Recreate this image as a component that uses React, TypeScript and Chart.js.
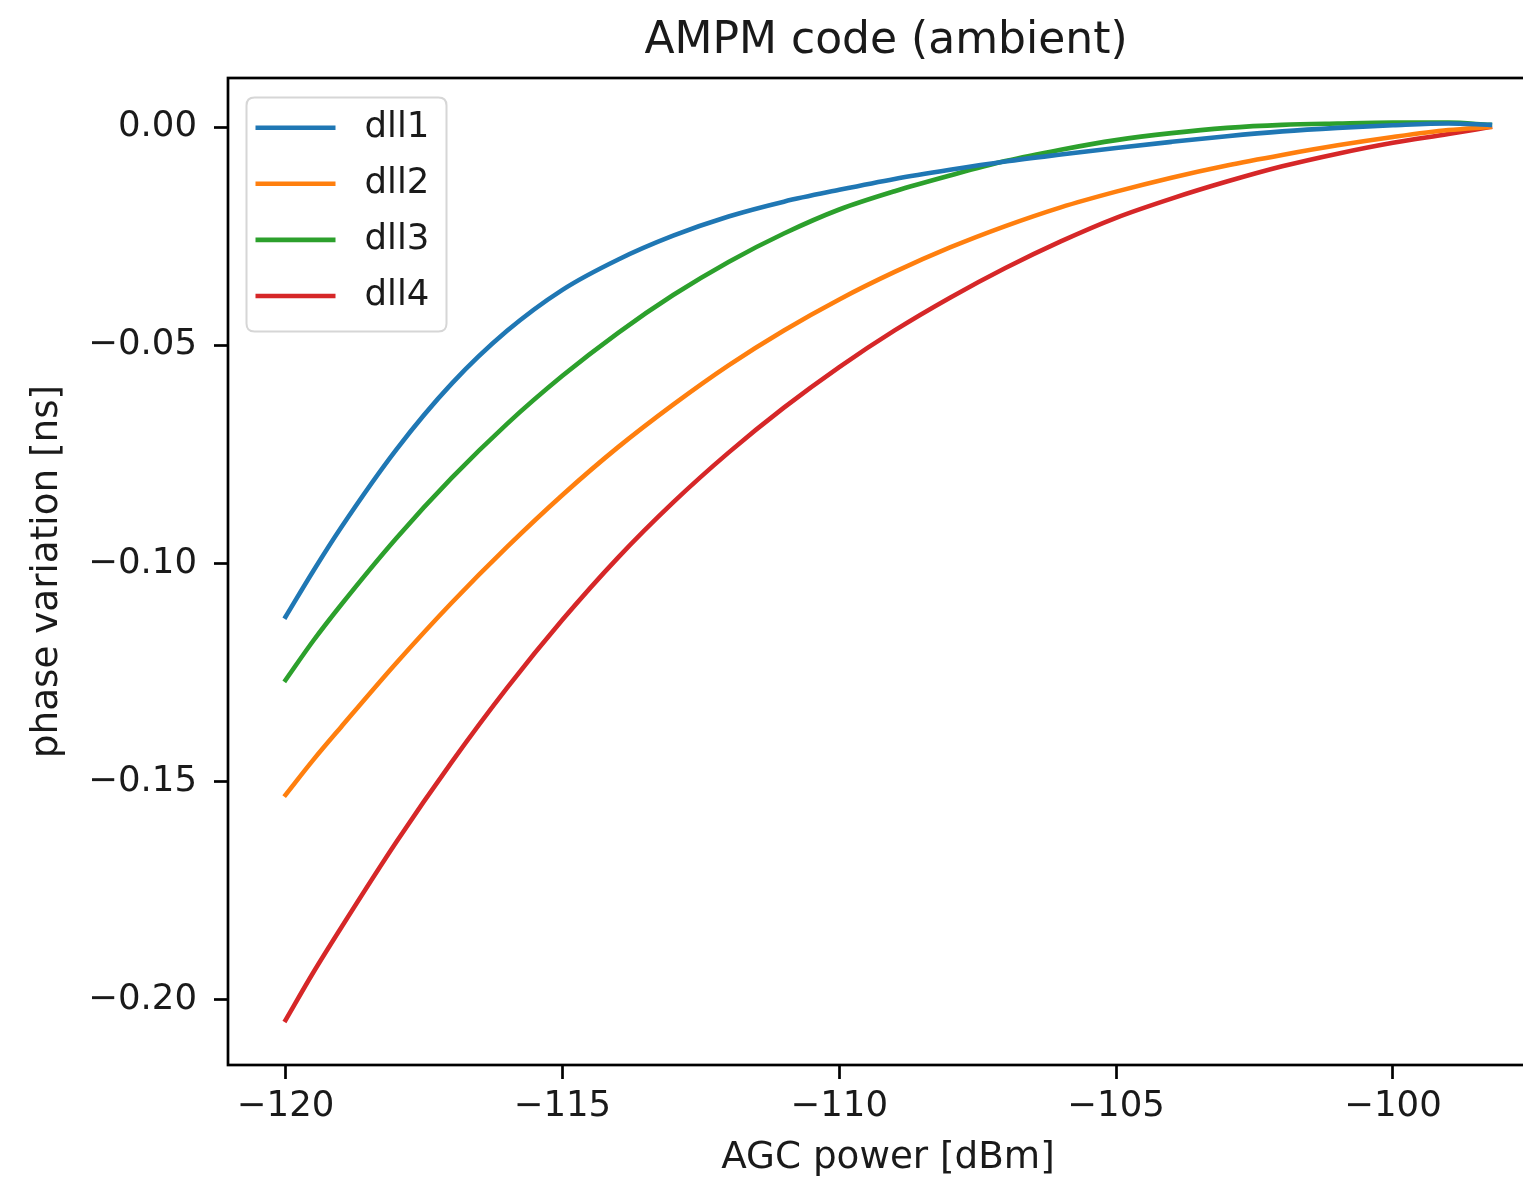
import React, { useEffect, useRef } from 'react';
import { Chart, registerables } from 'chart.js';

Chart.register(...registerables);

// ---- data ----
const xValues = [-120, -119.5, -119, -118, -117, -116, -115, -114, -113, -112, -111, -110, -109, -108, -107, -106, -105, -104, -103, -102, -101, -100, -99, -98.25];

const dll1 = [-0.1122, -0.1017, -0.0918, -0.0739, -0.0588, -0.0467, -0.0373, -0.0304, -0.0249, -0.0205, -0.0171, -0.0144, -0.0119, -0.0098, -0.0079, -0.0063, -0.0048, -0.0034, -0.0021, -0.0010, -0.0002, 0.0004, 0.0008, 0.0005];
const dll2 = [-0.1530, -0.1450, -0.1375, -0.1228, -0.1090, -0.0962, -0.0843, -0.0734, -0.0636, -0.0546, -0.0466, -0.0395, -0.0332, -0.0276, -0.0227, -0.0184, -0.0148, -0.0116, -0.0088, -0.0064, -0.0042, -0.0023, -0.0007, 0.0];
const dll3 = [-0.1267, -0.1177, -0.1095, -0.0942, -0.0804, -0.0680, -0.0570, -0.0472, -0.0385, -0.0309, -0.0244, -0.0189, -0.0147, -0.0111, -0.0078, -0.0052, -0.0030, -0.0014, -0.0002, 0.0005, 0.0008, 0.0010, 0.0010, 0.0005];
const dll4 = [-0.2046, -0.1937, -0.1835, -0.1638, -0.1455, -0.1285, -0.1129, -0.0987, -0.0860, -0.0746, -0.0643, -0.0550, -0.0466, -0.0391, -0.0323, -0.0262, -0.0208, -0.0164, -0.0125, -0.0090, -0.0061, -0.0036, -0.0016, 0.0];

const seriesLabels = ['dll1', 'dll2', 'dll3', 'dll4'];
const seriesColors = ['#1f77b4', '#ff7f0e', '#2ca02c', '#d62728'];
const xTickValues = [-120, -115, -110, -105, -100];
const yTickValues = [-0.2, -0.15, -0.1, -0.05, 0];
const titleText = 'AMPM code (ambient)';
const xAxisLabel = 'AGC power [dBm]';
const yAxisLabel = 'phase variation [ns]';

// ---- styling ----
const FONT = "'DejaVu Sans', 'Noto Sans', sans-serif";
const TEXT = '#1a1a1a';
const CANVAS_W = 1560;
const CANVAS_H = 1179;
const AREA_LEFT = 228;
const AREA_TOP = 78;
const AREA_BOTTOM = 1065;
const TICK_FONT = 35.5;
const LABEL_FONT = 37.3;

const minus = (v: number, digits: number) => {
  const s = Math.abs(v).toFixed(digits);
  return v < -1e-9 ? '\u2212' + s : s;
};

const framePlugin = {
  id: 'mplFrame',
  afterDraw(chart: any) {
    const { ctx, chartArea: a } = chart;
    ctx.save();
    ctx.strokeStyle = '#000';
    ctx.lineWidth = 2.7;
    ctx.strokeRect(a.left, a.top, a.right - a.left, a.bottom - a.top);
    ctx.restore();
  },
};

const titlePlugin = {
  id: 'mplTitle',
  afterDraw(chart: any) {
    const { ctx, chartArea: a } = chart;
    ctx.save();
    ctx.fillStyle = TEXT;
    ctx.font = `44px ${FONT}`;
    ctx.textAlign = 'center';
    ctx.textBaseline = 'middle';
    ctx.fillText(titleText, (a.left + a.right) / 2 - 2, a.top - 36.2);
    ctx.restore();
  },
};

const legendPlugin = {
  id: 'mplLegend',
  afterDraw(chart: any) {
    const { ctx, chartArea: a } = chart;
    const x0 = a.left + 18.5;
    const y0 = a.top + 19.5;
    const w = 200;
    const h = 234;
    const r = 8;
    ctx.save();
    ctx.beginPath();
    ctx.moveTo(x0 + r, y0);
    ctx.lineTo(x0 + w - r, y0);
    ctx.quadraticCurveTo(x0 + w, y0, x0 + w, y0 + r);
    ctx.lineTo(x0 + w, y0 + h - r);
    ctx.quadraticCurveTo(x0 + w, y0 + h, x0 + w - r, y0 + h);
    ctx.lineTo(x0 + r, y0 + h);
    ctx.quadraticCurveTo(x0, y0 + h, x0, y0 + h - r);
    ctx.lineTo(x0, y0 + r);
    ctx.quadraticCurveTo(x0, y0, x0 + r, y0);
    ctx.closePath();
    ctx.fillStyle = 'rgba(255,255,255,0.8)';
    ctx.fill();
    ctx.strokeStyle = '#d6d6d6';
    ctx.lineWidth = 2;
    ctx.stroke();
    chart.data.datasets.forEach((ds: any, i: number) => {
      const cy = y0 + 30.2 + i * 56.1;
      ctx.beginPath();
      ctx.moveTo(x0 + 9, cy);
      ctx.lineTo(x0 + 89, cy);
      ctx.strokeStyle = ds.borderColor;
      ctx.lineWidth = 4.6;
      ctx.lineCap = 'butt';
      ctx.stroke();
      ctx.fillStyle = TEXT;
      ctx.font = `${TICK_FONT}px ${FONT}`;
      ctx.textAlign = 'left';
      ctx.textBaseline = 'middle';
      ctx.fillText(ds.label, x0 + 118, cy);
    });
    ctx.restore();
  },
};

export default function App() {
  const canvasRef = useRef<HTMLCanvasElement | null>(null);

  useEffect(() => {
    const canvas = canvasRef.current;
    if (!canvas) return;
    const seriesValues = [dll1, dll2, dll3, dll4];
    const chart = new Chart(canvas, {
      type: 'line',
      data: {
        datasets: seriesValues.map((vals, k) => ({
          label: seriesLabels[k],
          data: xValues.map((x, i) => ({ x, y: vals[i] })),
          borderColor: seriesColors[k],
          backgroundColor: seriesColors[k],
          borderWidth: 4.6,
          pointRadius: 0,
          pointHoverRadius: 0,
          fill: false,
          cubicInterpolationMode: 'monotone',
          borderCapStyle: 'square',
        })),
      },
      options: {
        animation: false,
        responsive: false,
        devicePixelRatio: 1,
        events: [],
        layout: { padding: { left: 0, right: 12, top: AREA_TOP, bottom: 0 } },
        plugins: {
          legend: { display: false },
          tooltip: { enabled: false },
          title: { display: false },
        },
        scales: {
          x: {
            type: 'linear',
            min: -121.04,
            max: -97.2,
            afterBuildTicks: (s: any) => {
              s.ticks = xTickValues.map((value) => ({ value }));
            },
            afterFit: (s: any) => {
              s.height = CANVAS_H - AREA_BOTTOM;
            },
            ticks: {
              autoSkip: false,
              maxRotation: 0,
              color: TEXT,
              padding: 6.7,
              font: { family: FONT, size: TICK_FONT },
              callback: (v: any) => minus(Number(v), 0),
            },
            grid: {
              display: true,
              drawOnChartArea: false,
              drawTicks: true,
              tickLength: 14,
              tickWidth: 2.7,
              tickColor: '#000',
            },
            border: { display: false },
            title: {
              display: true,
              text: xAxisLabel,
              color: TEXT,
              font: { family: FONT, size: LABEL_FONT, lineHeight: 1 },
              padding: { top: 0, bottom: 2.4 },
            },
          },
          y: {
            type: 'linear',
            min: -0.2149,
            max: 0.01123,
            afterBuildTicks: (s: any) => {
              s.ticks = yTickValues.map((value) => ({ value }));
            },
            afterFit: (s: any) => {
              s.width = AREA_LEFT;
            },
            ticks: {
              autoSkip: false,
              color: TEXT,
              padding: 17,
              font: { family: FONT, size: TICK_FONT },
              callback: (v: any) => minus(Number(v), 2),
            },
            grid: {
              display: true,
              drawOnChartArea: false,
              drawTicks: true,
              tickLength: 14,
              tickWidth: 2.7,
              tickColor: '#000',
            },
            border: { display: false },
            title: {
              display: true,
              text: yAxisLabel,
              color: TEXT,
              font: { family: FONT, size: LABEL_FONT, lineHeight: 1 },
              padding: { top: 28.4, bottom: 0 },
            },
          },
        },
      },
      plugins: [framePlugin, titlePlugin, legendPlugin],
    } as any);
    return () => chart.destroy();
  }, []);

  return (
    <div
      style={{
        position: 'fixed',
        left: 0,
        top: 0,
        width: 1523,
        height: 1179,
        overflow: 'hidden',
        background: '#fff',
      }}
    >
      <canvas
        ref={canvasRef}
        width={CANVAS_W}
        height={CANVAS_H}
        style={{ width: CANVAS_W + 'px', height: CANVAS_H + 'px', display: 'block' }}
      />
    </div>
  );
}
